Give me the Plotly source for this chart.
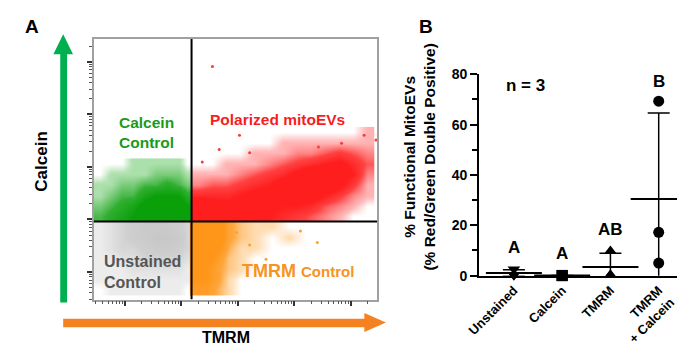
import math
import numpy as np
import plotly.graph_objects as go

W, H = 685, 353
FONT = "Liberation Sans, Arial, sans-serif"

# ---------------- Panel A data (log10 fluorescence, decades) ----------------
tmrm_gate = 2.18      # vertical quadrant gate (log10 TMRM)
calcein_gate = 1.96   # horizontal quadrant gate (log10 Calcein)

# Polarized mitoEVs (double positive) - event density
red_u = [2.3, 2.55, 2.8, 3.05, 3.3, 3.55, 3.8, 4.05, 4.3, 4.55, 4.8, 5.05, 5.3]
red_v = [2.06, 2.26, 2.46, 2.66, 2.86, 3.06, 3.26, 3.46, 3.66]
red_density = [
    [9, 9, 8, 7, 7, 6, 5, 4, 3, 2, 1, 0, 0],
    [9, 8, 7, 7, 7, 7, 6, 6, 5, 3, 2, 1, 0],
    [5, 5, 5, 6, 7, 7, 7, 8, 8, 6, 4, 2, 1],
    [2, 3, 3, 4, 5, 6, 8, 9, 9, 9, 7, 4, 1],
    [1, 1, 1, 2, 3, 4, 5, 7, 9, 9, 8, 6, 2],
    [0, 0, 1, 1, 1, 2, 3, 4, 5, 6, 7, 5, 3],
    [0, 0, 0, 0, 1, 1, 1, 2, 2, 3, 4, 3, 2],
    [0, 0, 0, 0, 0, 0, 1, 1, 1, 1, 1, 1, 1],
    [0, 0, 0, 0, 0, 0, 0, 0, 0, 0, 0, 0, 1],
]
red_out_u = [2.55, 3.03, 2.37, 2.67, 3.21, 5.24, 5.45, 4.43, 4.84]
red_out_v = [4.91, 3.60, 3.09, 3.33, 3.27, 3.60, 3.51, 3.38, 3.45]

# Calcein control (upper left)
green_u = [0.55, 0.75, 0.95, 1.15, 1.35, 1.55, 1.75, 1.95, 2.1]
green_v = [2.06, 2.26, 2.46, 2.66, 2.86, 3.06]
green_density = [
    [3, 4, 5, 6, 8, 9, 9, 9, 7],
    [2, 3, 4, 5, 7, 8, 8, 8, 6],
    [1, 2, 3, 3, 5, 6, 6, 6, 4],
    [1, 1, 2, 2, 3, 3, 4, 3, 2],
    [0, 1, 1, 1, 1, 2, 2, 2, 1],
    [0, 0, 0, 1, 1, 1, 1, 1, 0],
]

# Unstained control (lower left)
gray_u = [0.55, 0.75, 0.95, 1.15, 1.35, 1.55, 1.75, 1.95, 2.1]
gray_v = [0.66, 0.86, 1.06, 1.26, 1.46, 1.66, 1.86]
gray_density = [
    [0, 1, 1, 1, 1, 1, 1, 1, 0],
    [1, 1, 1, 1, 1, 1, 1, 1, 1],
    [1, 1, 1, 2, 2, 2, 2, 2, 1],
    [1, 1, 2, 2, 3, 3, 3, 3, 2],
    [1, 2, 3, 3, 4, 5, 5, 4, 3],
    [1, 2, 3, 4, 5, 6, 6, 5, 3],
    [1, 2, 3, 4, 5, 5, 5, 4, 3],
]

# TMRM control (lower right)
orange_u = [2.25, 2.45, 2.65, 2.85, 3.05, 3.3, 3.6, 3.9, 4.2]
orange_v = [0.66, 0.86, 1.06, 1.26, 1.46, 1.66, 1.86]
orange_density = [
    [5, 5, 3, 1, 0, 0, 0, 0, 0],
    [6, 6, 4, 1, 0, 0, 0, 0, 0],
    [6, 6, 4, 2, 1, 0, 0, 0, 0],
    [7, 7, 5, 2, 1, 0, 0, 0, 0],
    [10, 9, 7, 3, 1, 1, 0, 0, 0],
    [10, 10, 8, 4, 2, 1, 0, 1, 0],
    [10, 10, 8, 4, 2, 1, 1, 0, 0],
]
orange_out_u = [2.98, 3.21, 4.11, 4.41, 3.50]
orange_out_v = [1.75, 1.51, 1.78, 1.56, 1.24]

# ---------------- Panel B data ----------------
groups = ["Unstained", "Calcein", "TMRM", "TMRM<br>+ Calcein"]
unstained_vals = [2.6, 0.4, 0.2]
calcein_vals = [0.1, 0.05, 0.0]
tmrm_vals = [9.8, 0.4, 0.2]
tmrm_calcein_vals = [69.3, 17.2, 5.0]
group_letters = ["A", "A", "AB", "B"]
y_ticks_b = [0, 20, 40, 60, 80]

# ---------------- helpers ----------------
def fx(px):
    return px / W

def fy(py):
    return 1 - py / H

fig = go.Figure()

def density_trace(u, v, z, rgb, amax=1.0):
    r, g, b = rgb
    cs = [
        [0.0, f"rgba({r},{g},{b},0)"],
        [0.08, f"rgba({r},{g},{b},{0.3*amax})"],
        [0.35, f"rgba({r},{g},{b},{0.85*amax})"],
        [0.6, f"rgba({r},{g},{b},{amax})"],
        [1.0, f"rgba({r},{g},{b},{amax})"],
    ]
    return go.Heatmap(x=u, y=v, z=z, zmin=0, zmax=10, zsmooth="best",
                      colorscale=cs, showscale=False, hoverinfo="skip",
                      xaxis="x", yaxis="y")

fig.add_trace(density_trace(gray_u, gray_v, gray_density, (130, 130, 130), 0.45))
fig.add_trace(density_trace(green_u, green_v, green_density, (10, 160, 10)))
fig.add_trace(density_trace(orange_u, orange_v, orange_density, (255, 150, 25)))
fig.add_trace(density_trace(red_u, red_v, red_density, (255, 30, 30)))
fig.add_trace(go.Scatter(x=red_out_u, y=red_out_v, mode="markers",
                         marker=dict(size=3, color="rgb(250,60,60)"),
                         hoverinfo="skip", xaxis="x", yaxis="y"))
fig.add_trace(go.Scatter(x=orange_out_u, y=orange_out_v, mode="markers",
                         marker=dict(size=3, color="rgb(255,160,50)"),
                         hoverinfo="skip", xaxis="x", yaxis="y"))

# Panel B points
symbols = ["triangle-down", "square", "triangle-up", "circle"]
all_vals = [unstained_vals, calcein_vals, tmrm_vals, tmrm_calcein_vals]
for i, (vals, sym) in enumerate(zip(all_vals, symbols)):
    fig.add_trace(go.Scatter(x=[i] * len(vals), y=vals, mode="markers",
                             marker=dict(symbol=sym, size=11, color="black"),
                             cliponaxis=False, hoverinfo="skip",
                             xaxis="x2", yaxis="y2"))
means = [float(np.mean(v)) for v in all_vals]
sds = [float(np.std(v, ddof=1)) for v in all_vals]
fig.add_trace(go.Scatter(x=list(range(len(groups))), y=means, mode="markers",
                         marker=dict(symbol="line-ew", size=40,
                                     line=dict(width=2, color="black")),
                         error_y=dict(type="data", array=sds, symmetric=True,
                                      width=11, thickness=1.5, color="black"),
                         cliponaxis=False, hoverinfo="skip",
                         xaxis="x2", yaxis="y2"))

# ---------------- axes ----------------
minor_vals = [d + math.log10(k) for d in range(0, 6) for k in range(2, 10)]
tick_style = dict(showticklabels=False, ticks="outside", ticklen=5, tickwidth=2,
                  tickcolor="#333", showgrid=False, zeroline=False,
                  showline=True, mirror=True, linecolor="#a0a0a0", linewidth=1.5)
fig.update_layout(
    xaxis=dict(domain=[fx(74), fx(363)], range=[0.443, 5.47], anchor="y",
               tickmode="array", tickvals=[1, 2, 3, 4, 5],
               minor=dict(tickmode="array", tickvals=minor_vals, ticks="outside",
                          ticklen=3, tickcolor="#555", tickwidth=1),
               **tick_style),
    yaxis=dict(domain=[fy(297), fy(24)], range=[0.473, 5.436], anchor="x",
               tickmode="array", tickvals=[1, 2, 3, 4, 5],
               minor=dict(tickmode="array", tickvals=minor_vals, ticks="outside",
                          ticklen=3, tickcolor="#555", tickwidth=1),
               **tick_style),
    xaxis2=dict(domain=[fx(467), fx(683)], range=[-0.72, 3.67], anchor="y2",
                tickmode="array", tickvals=list(range(len(groups))), ticktext=groups,
                tickangle=-45, ticks="", showgrid=False, zeroline=False,
                showline=True, linecolor="black", linewidth=2,
                tickfont=dict(family=FONT, size=13, color="black", weight="bold")),
    yaxis2=dict(domain=[fy(272), fy(61)], range=[0, 80], anchor="x2",
                tickmode="array", tickvals=y_ticks_b, ticks="outside", ticklen=7,
                tickwidth=2, tickcolor="black", showgrid=False, zeroline=False,
                showline=True, linecolor="black", linewidth=2,
                minor=dict(tickmode="array", tickvals=[10, 30, 50, 70],
                           ticks="outside", ticklen=5, tickwidth=2, tickcolor="black"),
                tickfont=dict(family=FONT, size=14, color="black", weight="bold")),
)

# ---------------- shapes ----------------
shapes = []
shapes.append(dict(type="line", xref="x", yref="y", x0=tmrm_gate, x1=tmrm_gate,
                   y0=0.473, y1=5.436, line=dict(color="black", width=2)))
shapes.append(dict(type="line", xref="x", yref="y", x0=0.443, x1=5.47,
                   y0=calcein_gate, y1=calcein_gate, line=dict(color="black", width=2)))

def path(points):
    return "M " + " L ".join(f"{fx(px):.5f},{fy(py):.5f}" for px, py in points) + " Z"

green_arrow = [(40, 300), (40, 40), (33, 40), (43, 19), (53, 40), (47, 40), (47, 300)]
orange_arrow = [(43, 317), (350, 317), (350, 311), (372, 321), (350, 331), (350, 326), (43, 326)]
shapes.append(dict(type="path", xref="paper", yref="paper", path=path(green_arrow),
                   fillcolor="rgb(0,176,80)", line=dict(width=0)))
shapes.append(dict(type="path", xref="paper", yref="paper", path=path(orange_arrow),
                   fillcolor="rgb(245,130,32)", line=dict(width=0)))
fig.update_layout(shapes=shapes)

# ---------------- annotations ----------------
def ann(text, px, py, size, color="black", angle=0, xanchor="center", align="center"):
    return dict(text=text, x=fx(px), y=fy(py), xref="paper", yref="paper",
                showarrow=False, textangle=angle, xanchor=xanchor, yanchor="middle",
                align=align,
                font=dict(family=FONT, size=size, color=color, weight="bold"))

annotations = [
    ann("A", 11, 11, 19),
    ann("B", 413, 11, 19),
    ann("Calcein", 20, 153, 17, angle=-90),
    ann("TMRM", 209, 337, 16),
    ann("Calcein<br>Control", 98, 122, 15.5, color="rgb(25,155,25)", xanchor="left", align="left"),
    ann("Polarized mitoEVs", 261, 108, 15.5, color="rgb(245,30,30)"),
    ann("Unstained<br>Control", 83, 268, 16, color="rgb(85,85,85)", xanchor="left", align="left"),
    ann("TMRM <span style='font-size:15px'>Control</span>", 282, 267, 18,
        color="rgb(247,147,30)"),
    ann("% Functional MitoEVs<br>(% Red/Green Double Positive)", 406, 148, 15.5, angle=-90),
    ann("n = 3", 514, 73, 17),
]
for i, letter in enumerate(group_letters):
    top = max(all_vals[i] + [means[i] + sds[i]])
    annotations.append(dict(text=letter, x=i, y=top, xref="x2", yref="y2",
                            yshift=10 if i < 3 else 8, showarrow=False, yanchor="bottom",
                            font=dict(family=FONT, size=17, color="black", weight="bold")))
fig.update_layout(annotations=annotations)

fig.update_layout(width=W, height=H, margin=dict(l=0, r=0, t=0, b=0),
                  paper_bgcolor="white", plot_bgcolor="rgba(0,0,0,0)",
                  showlegend=False, font=dict(family=FONT))

fig.write_html("out.html")
